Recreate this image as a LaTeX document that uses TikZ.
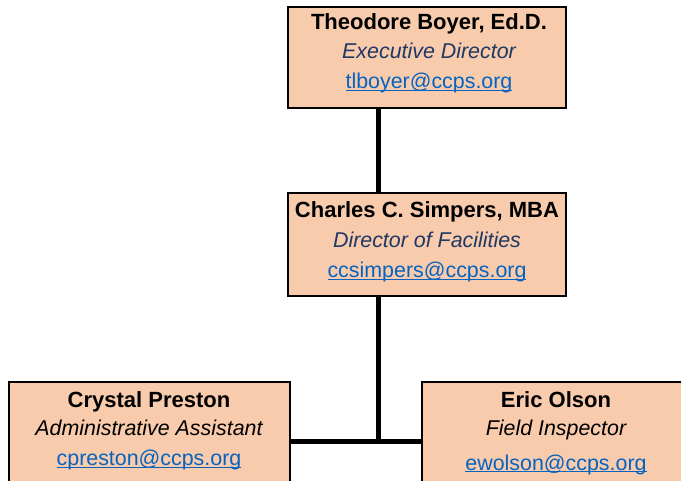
\documentclass[tikz,border=0pt]{standalone}
\usepackage{fontspec}
\setmainfont{Liberation Sans}
\definecolor{boxfill}{HTML}{F7CBAC}
\definecolor{titlenavy}{HTML}{1F3864}
\definecolor{mailblue}{HTML}{0563C1}
% e-mail address: blue text with an underline just under the baseline
\newcommand\mailaddr[1]{{\color{mailblue}\setbox0\hbox{#1}\rlap{\rule[-2.4pt]{\wd0}{1.3pt}}\box0}}
\newcommand\staffname[1]{{\fontsize{22}{29.3}\selectfont\bfseries #1}}
\tikzset{
  x=1pt, y=-1pt,
  staffbox/.style={draw=black, line width=2pt, fill=boxfill, rectangle, inner sep=0pt},
  staffinfo/.style={anchor=base, align=center, inner sep=0pt,
    font=\fontsize{21.4}{29.3}\selectfont},
  conn/.style={line width=5pt, black}
}
\begin{document}
\begin{tikzpicture}
\useasboundingbox (0,0) rectangle (681,481);
% boxes
\node[staffbox, minimum width=278pt, minimum height=101pt] (top) at (427,57.5) {};
\node[staffbox, minimum width=278pt, minimum height=103pt] (mid) at (427,244.5) {};
\node[staffbox, minimum width=281pt, minimum height=100pt] (left) at (149.5,432) {};
\node[staffbox, minimum width=268pt, minimum height=100pt] (right) at (556,432) {};
% connectors
\coordinate (j) at (378,442);
\draw[conn] (top.south -| j) -- (mid.north -| j);
\draw[conn] (mid.south -| j) -- ([yshift=-2.5pt]j);
\draw[conn] (left.east |- j) -- (right.west |- j);
% texts (each node sits on the baseline of its last line)
\node[staffinfo] (topt) at (429,88.5) {\staffname{Theodore Boyer, Ed.D.}\\
  {\color{titlenavy}\itshape Executive Director}\\[0.2pt]
  \mailaddr{tlboyer@ccps.org}};
\node[staffinfo] (midt) at (427,277.5) {\staffname{Charles C. Simpers, MBA}\\[0.7pt]
  {\color{titlenavy}\itshape Director of Facilities}\\[0.7pt]
  \mailaddr{ccsimpers@ccps.org}};
\node[staffinfo] (leftt) at (149,465.5) {\staffname{Crystal Preston}\\[-1.3pt]
  {\itshape Administrative Assistant}\\[1.2pt]
  \mailaddr{cpreston@ccps.org}};
\node[staffinfo] (rightt) at (556,470) {\staffname{Eric Olson}\\[-1.3pt]
  {\itshape Field Inspector}\\[5.7pt]
  \mailaddr{ewolson@ccps.org}};
\end{tikzpicture}
\end{document}
